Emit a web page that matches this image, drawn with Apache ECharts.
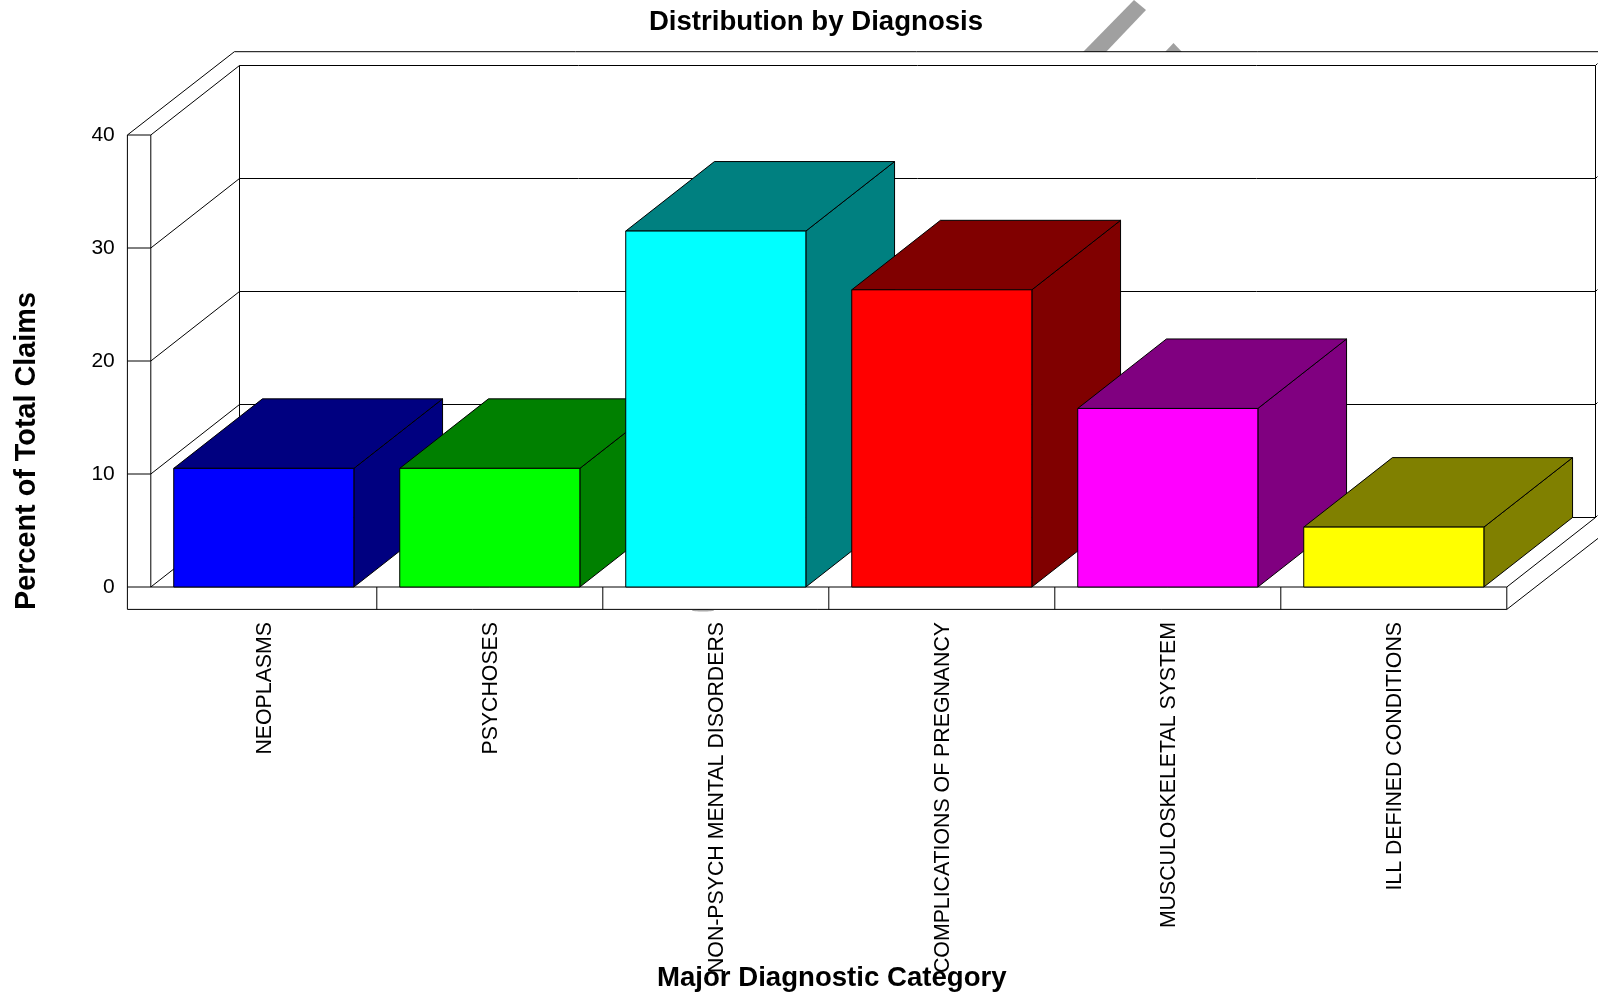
<!DOCTYPE html>
<html>
<head>
<meta charset="utf-8">
<title>Distribution by Diagnosis</title>
<script src="https://cdn.jsdelivr.net/npm/echarts@6/dist/echarts.min.js"></script>
<style>
  html, body { margin: 0; padding: 0; background: #fff; }
  #chart-container { width: 1598px; height: 995px; }
</style>
</head>
<body>
<div id="chart-container"></div>
<script>
var categories = ['NEOPLASMS', 'PSYCHOSES', 'NON-PSYCH MENTAL DISORDERS', 'COMPLICATIONS OF PREGNANCY', 'MUSCULOSKELETAL SYSTEM', 'ILL DEFINED CONDITIONS'];
var claimsPct = [10.5, 10.5, 31.5, 26.3, 15.8, 5.3];
var frontColors = ['#0000ff', '#00ff00', '#00ffff', '#ff0000', '#ff00ff', '#ffff00'];
var sideColors = ['#000080', '#008000', '#008080', '#800000', '#800080', '#808000'];
var yTicks = [0, 10, 20, 30, 40];

// pseudo 3d offsets, px
var depthX = 88.7, depthY = -69.5;  // back wall
var ledgeX = 23.4, ledgeY = 22.4;   // outer ledge left and below the plot
var outerX = 107, outerY = -83.3;   // outer edge of the box
var font = '"Liberation Sans", Arial, sans-serif';

var chart = echarts.init(document.getElementById('chart-container'));

function line(x1, y1, x2, y2) {
  return {
    type: 'line',
    shape: { x1: x1, y1: y1, x2: x2, y2: y2 },
    style: { stroke: '#000', lineWidth: 1, fill: null },
    silent: true
  };
}

function poly(points, fill) {
  return {
    type: 'polygon',
    shape: { points: points },
    style: { fill: fill, stroke: '#000', lineWidth: 1 },
    silent: true
  };
}

function renderFrame(params, api) {
  var cs = params.coordSys;
  var left = cs.x, right = cs.x + cs.width;
  var bottom = api.coord([0, 0])[1], top = api.coord([0, 40])[1];
  var kids = [];

  // ticks: ledge, side wall, back wall
  yTicks.forEach(function (t) {
    var y = api.coord([0, t])[1];
    kids.push(line(left - ledgeX, y, left, y));
    kids.push(line(left, y, left + depthX, y + depthY));
    kids.push(line(left + depthX, y + depthY, right + depthX, y + depthY));
    // little nub at the right end of the back wall
    kids.push(line(right + depthX, y + depthY, right + depthX + 2, y + depthY - 2));
  });
  kids.push(line(left - ledgeX, top, left - ledgeX, bottom + ledgeY));
  kids.push(line(left, top, left, bottom));
  kids.push(line(left + depthX, top + depthY, left + depthX, bottom + depthY));
  kids.push(line(right + depthX, top + depthY, right + depthX, bottom + depthY));

  // outer box top
  kids.push(line(left - ledgeX, top, left - ledgeX + outerX, top + outerY));
  kids.push(line(left - ledgeX + outerX, top + outerY, right + outerX, top + outerY));

  // floor and front ledge
  kids.push(line(left, bottom, right, bottom));
  kids.push(line(right, bottom, right + depthX, bottom + depthY));
  kids.push(line(left - ledgeX, bottom + ledgeY, right, bottom + ledgeY));
  kids.push(line(right, bottom, right, bottom + ledgeY));
  kids.push(line(right, bottom + ledgeY, right + outerX, bottom + ledgeY + outerY));
  var band = cs.width / categories.length;
  for (var i = 1; i < categories.length; i++) {
    kids.push(line(left + band * i, bottom, left + band * i, bottom + ledgeY));
  }
  return { type: 'group', children: kids };
}

function renderBar(params, api) {
  var i = api.value(0);
  var base = api.coord([i, 0]);
  var head = api.coord([i, api.value(1)]);
  var w = api.size([1, 0])[0] * 0.797;
  var x0 = base[0] - w / 2, x1 = base[0] + w / 2;
  return {
    type: 'group',
    children: [
      poly([[x1, head[1]], [x1 + depthX, head[1] + depthY], [x1 + depthX, base[1] + depthY], [x1, base[1]]], sideColors[i]),
      poly([[x0, head[1]], [x0 + depthX, head[1] + depthY], [x1 + depthX, head[1] + depthY], [x1, head[1]]], sideColors[i]),
      poly([[x0, head[1]], [x1, head[1]], [x1, base[1]], [x0, base[1]]], frontColors[i])
    ]
  };
}

var option = {
  animation: false,
  backgroundColor: '#fff',
  title: {
    text: 'Distribution by Diagnosis',
    left: 811,
    top: 3,
    textAlign: 'center',
    textStyle: { fontFamily: font, fontSize: 27.6, fontWeight: 'bold', color: '#000' }
  },
  tooltip: { show: false },
  grid: { left: 150.8, right: 91.2, top: 135, bottom: 408, outerBoundsMode: 'none' },
  xAxis: {
    type: 'category',
    data: categories,
    name: 'Major Diagnostic Category',
    nameLocation: 'middle',
    nameGap: 377,
    nameMoveOverlap: false,
    nameTextStyle: { fontFamily: font, fontSize: 27.6, fontWeight: 'bold', color: '#000', padding: [0, 0, 0, 6] },
    axisLine: { show: false },
    axisTick: { show: false },
    axisLabel: { interval: 0, rotate: 90, margin: 35, fontFamily: font, fontSize: 21.3, color: '#000', hideOverlap: false, verticalAlign: 'top', lineHeight: 3 }
  },
  yAxis: {
    type: 'value',
    min: 0,
    max: 40,
    interval: 10,
    name: 'Percent of Total Claims',
    nameLocation: 'middle',
    nameGap: 109,
    nameTextStyle: { fontFamily: font, fontSize: 28.8, fontWeight: 'bold', color: '#000', padding: [0, 180, 0, 0] },
    axisLine: { show: false },
    axisTick: { show: false },
    splitLine: { show: false },
    axisLabel: { margin: 36, fontFamily: font, fontSize: 21, color: '#000' }
  },
  // bits of the grey stamp behind the plot
  graphic: [
    { type: 'polygon', z: -1, silent: true, shape: { points: [[1134, 0], [1146, 10], [1106, 52], [1083, 52]] }, style: { fill: '#a0a0a0' } },
    { type: 'polygon', z: -1, silent: true, shape: { points: [[1173.5, 43], [1182, 52], [1165, 52]] }, style: { fill: '#a0a0a0' } },
    { type: 'ellipse', z: -1, silent: true, shape: { cx: 703, cy: 610.5, rx: 11, ry: 1 }, style: { fill: '#aaa' } }
  ],
  series: [
    {
      type: 'custom',
      name: 'frame',
      clip: false,
      silent: true,
      renderItem: renderFrame,
      data: [[0, 0]],
      z: 1
    },
    {
      type: 'custom',
      name: 'Percent of Total Claims',
      clip: false,
      silent: true,
      renderItem: renderBar,
      encode: { x: 0, y: 1 },
      data: claimsPct.map(function (v, i) { return [i, v]; }),
      z: 2
    }
  ]
};

chart.setOption(option);
</script>
</body>
</html>
